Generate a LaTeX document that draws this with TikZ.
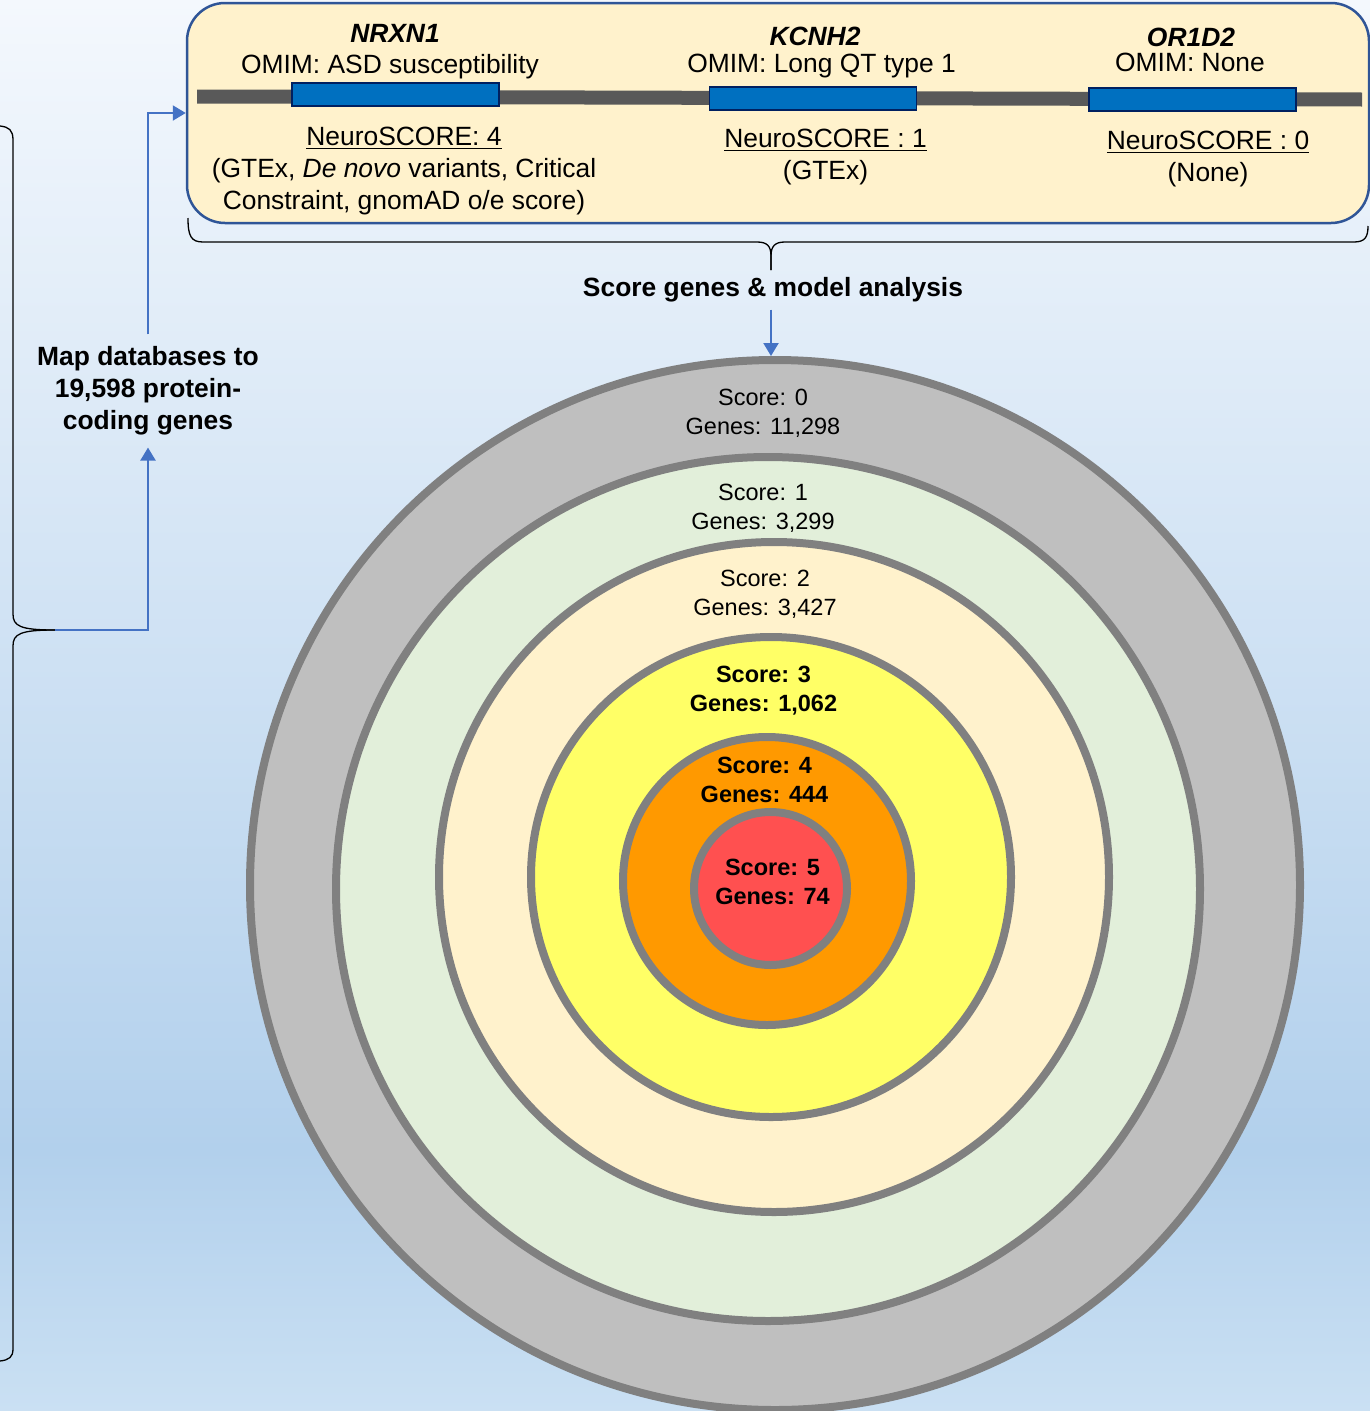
\documentclass[tikz,border=0pt]{standalone}
\usepackage{fontspec}
\setmainfont{Liberation Sans}
\usetikzlibrary{arrows.meta}
\definecolor{bgTop}{RGB}{244,248,253}
\definecolor{bgMid}{RGB}{178,208,236}
\definecolor{bgBot}{RGB}{202,224,243}
\definecolor{boxF}{HTML}{FFF2CC}
\definecolor{boxD}{HTML}{2F5597}
\definecolor{chromC}{HTML}{595959}
\definecolor{geneF}{HTML}{0070C0}
\definecolor{geneD}{HTML}{002060}
\definecolor{arrC}{HTML}{4472C4}
\definecolor{ringD}{HTML}{808080}
\definecolor{cA}{HTML}{BFBFBF}
\definecolor{cB}{HTML}{E2EFDA}
\definecolor{cC}{HTML}{FFF2CC}
\definecolor{cD}{HTML}{FFFF66}
\definecolor{cE}{HTML}{FF9900}
\definecolor{cF}{HTML}{FF5050}
\newcommand\fBig{\fontsize{26.4}{32}\selectfont}
\newcommand\fSm{\fontsize{23.5}{29}\selectfont}
\newcommand\ulx[1]{\setbox0\hbox{#1}\rlap{\rule[-3.4pt]{\wd0}{1.4pt}}\box0}
\begin{document}
\begin{tikzpicture}[x=1pt,y=-1pt,
  ring/.style={circle,draw=ringD,line width=8pt,inner sep=0pt},
  lbl/.style={align=center,font=\fSm,inner sep=0pt},
  blbl/.style={align=center,font=\fSm\bfseries,inner sep=0pt},
  gtxt/.style={align=center,font=\fBig,inner sep=0pt},
  topbox/.style={draw=boxD,fill=boxF,line width=2.5pt,rounded corners=38pt,minimum width=1182pt,minimum height=220pt,inner sep=0pt},
  gene/.style={draw=geneD,fill=geneF,line width=1.8pt,minimum width=207pt,minimum height=23pt,inner sep=0pt},
  conn/.style={draw=arrC,line width=2.2pt,-{Triangle[length=13pt,width=15pt]}},
  brc/.style={draw=black,line width=1.3pt}]
\useasboundingbox (0,0) rectangle (1370,1411);
\begin{scope}
\clip (0,0) rectangle (1370,1411);
\shade[top color=bgTop,bottom color=bgMid] (0,0) rectangle (1370,1151);
\shade[top color=bgMid,bottom color=bgBot] (0,1150) rectangle (1370,1411);
% target rings
\node[ring,fill=cA,minimum size=1050pt] (c0) at (775,885) {};
\node[ring,fill=cB,minimum size=864pt] (c1) at (768,889) {};
\node[ring,fill=cC,minimum size=670pt] (c2) at (774,877) {};
\node[ring,fill=cD,minimum size=480pt] (c3) at (771,877) {};
\node[ring,fill=cE,minimum size=288pt] (c4) at (767,881) {};
\node[ring,fill=cF,minimum size=153pt] (c5) at (770.5,888.5) {};
\node[lbl] (t0) at (763,413) {Score: 0\\Genes: 11,298};
\node[lbl] (t1) at (763,508.5) {Score: 1\\Genes: 3,299};
\node[lbl] (t2) at (765,594) {Score: 2\\Genes: 3,427};
\node[blbl] (t3) at (763.5,690.5) {Score: 3\\Genes: 1,062};
\node[blbl] (t4) at (764.5,780) {Score: 4\\Genes: 444};
\node[blbl] (t5) at (772.5,882) {Score: 5\\Genes: 74};
% top box
\node[topbox] (box) at (778,113) {};
\fill[chromC] (197,89.5) -- (1362,92.5) -- (1362,106.5) -- (197,103.5) -- cycle;
\node[gene] (g1) at (395.5,94.5) {};
\node[gene] (g2) at (813,98.5) {};
\node[gene] (g3) at (1192.5,99.5) {};
\node[gtxt,font=\fBig\bfseries\itshape] (n1) at (395,33) {NRXN1};
\node[gtxt] (o1) at (390,66.5) {OMIM: ASD susceptibility};
\node[gtxt] (s1) at (404,171.5) {\ulx{NeuroSCORE: 4}\\(GTEx, \textit{De novo} variants, Critical\\Constraint, gnomAD o/e score)};
\node[gtxt,font=\fBig\bfseries\itshape] (n2) at (815,36) {KCNH2};
\node[gtxt] (o2) at (821.5,66.5) {OMIM: Long QT type 1};
\node[gtxt] (s2) at (825.5,157.5) {\ulx{NeuroSCORE : 1}\\(GTEx)};
\node[gtxt,font=\fBig\bfseries\itshape] (n3) at (1191,37) {OR1D2};
\node[gtxt] (o3) at (1190,62) {OMIM: None};
\node[gtxt] (s3) at (1208,159.5) {\ulx{NeuroSCORE : 0}\\(None)};
% bottom brace of the box
\coordinate (tb) at (771,270);
\draw[brc] (188,218) .. controls (188,236) and (191,242) .. (203,242) -- (757,242) .. controls (767,242) and (771,246) .. (771,256) -- (tb);
\draw[brc] (tb) -- (771,256) .. controls (771,246) and (775,242) .. (785,242) -- (1354,242) .. controls (1365,242) and (1368,237) .. (1368,226);
\node[gtxt,font=\fBig\bfseries,inner ysep=7pt] (sg) at (773,290) {Score genes \& model analysis};
\draw[conn] (tb |- sg.south) -- (tb |- c0.north);
% left brace
\coordinate (bt) at (55,630);
\draw[brc] (0,126) .. controls (9,127) and (13,130) .. (13,140) -- (13,614) .. controls (13,626) and (20,630) .. (bt);
\draw[brc] (bt) .. controls (20,630) and (13,634) .. (13,646) -- (13,1349) .. controls (13,1357) and (9,1360) .. (0,1361);
\node[gtxt,font=\fBig\bfseries,inner sep=12pt] (map) at (148,391) {Map databases to\\19,598 protein-\\coding genes};
\draw[conn] (bt) -| (map.south);
\draw[conn] (map.north) |- (box.west);
\end{scope}
\end{tikzpicture}
\end{document}
